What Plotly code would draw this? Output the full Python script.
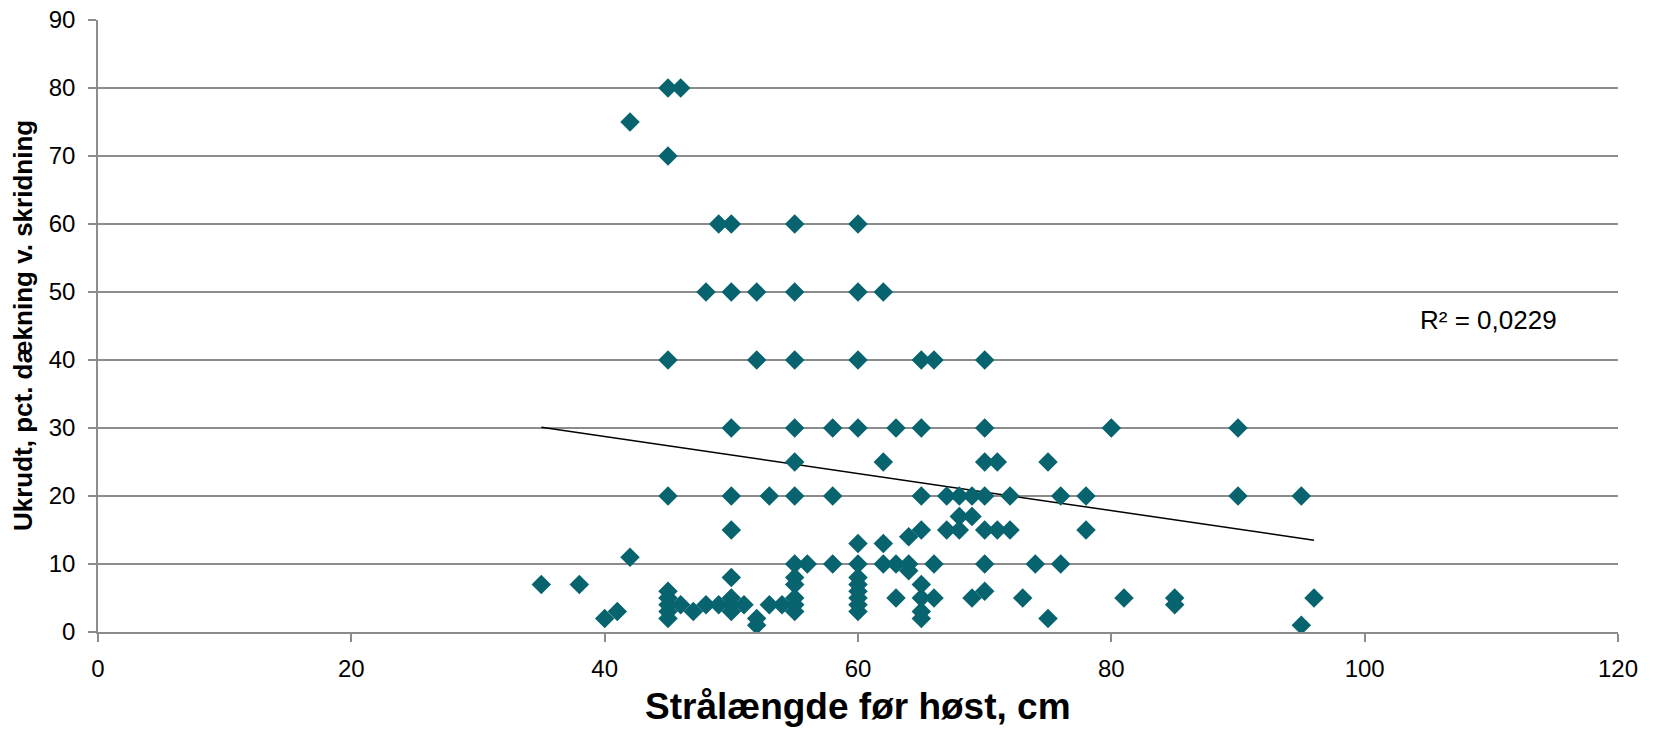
import plotly.graph_objects as go

# Data
x_vals = [
    35, 38, 40, 41, 42, 42,
    45, 45, 45, 45, 45, 45, 45, 45, 45,
    46, 46, 47, 48, 48, 49, 49,
    50, 50, 50, 50, 50, 50, 50, 50, 50,
    51, 52, 52, 52, 52, 53, 53, 54,
    55, 55, 55, 55, 55, 55, 55, 55, 55, 55, 55, 55,
    56, 58, 58, 58,
    60, 60, 60, 60, 60, 60, 60, 60, 60, 60, 60, 60,
    62, 62, 62, 62, 63, 63, 63, 64, 64, 64,
    65, 65, 65, 65, 65, 65, 65, 65,
    66, 66, 66, 67, 67, 68, 68, 68, 69, 69, 69,
    70, 70, 70, 70, 70, 70, 70, 71, 71, 72, 72,
    73, 74, 75, 75, 76, 76, 78, 78, 80, 81, 85, 85, 90, 90, 95, 95, 96,
]
y_vals = [
    7, 7, 2, 3, 11, 75,
    2, 3, 4, 5, 6, 20, 40, 70, 80,
    4, 80, 3, 4, 50, 4, 60,
    3, 4, 5, 8, 15, 20, 30, 50, 60,
    4, 1, 2, 40, 50, 4, 20, 4,
    3, 4, 5, 7, 8, 10, 20, 25, 30, 40, 50, 60,
    10, 10, 20, 30,
    3, 4, 5, 6, 7, 8, 10, 13, 30, 40, 50, 60,
    10, 13, 25, 50, 5, 10, 30, 9, 10, 14,
    2, 3, 5, 7, 15, 20, 30, 40,
    5, 10, 40, 15, 20, 15, 17, 20, 5, 17, 20,
    6, 10, 15, 20, 25, 30, 40, 15, 25, 15, 20,
    5, 10, 2, 25, 10, 20, 15, 20, 30, 5, 4, 5, 20, 30, 1, 20, 5,
]

# Linear trend line as drawn in the reference (endpoints)
trend_x = [35, 96]
trend_y = [30.1, 13.5]
r2_text = "R² = 0,0229"

x_ticks = [0, 20, 40, 60, 80, 100, 120]
y_ticks = [0, 10, 20, 30, 40, 50, 60, 70, 80, 90]

x_title = "Strålængde før høst, cm"
y_title = "Ukrudt, pct. dækning v. skridning"

FONT = "Liberation Sans, Arial, sans-serif"
TEAL = "#07646F"
GRID = "#8C8C8C"

fig = go.Figure()
fig.add_trace(go.Scatter(
    x=trend_x, y=trend_y, mode="lines",
    line=dict(color="black", width=1.5),
    hoverinfo="skip", showlegend=False,
))
fig.add_trace(go.Scatter(
    x=x_vals, y=y_vals, mode="markers",
    marker=dict(symbol="diamond", size=15, color=TEAL, line=dict(width=0)),
    showlegend=False,
))

fig.add_annotation(
    x=109.8, y=45.9, xref="x", yref="y", text=r2_text, showarrow=False,
    font=dict(family=FONT, size=26, color="black"),
)
fig.add_annotation(
    x=0.5, y=-0.121, xref="paper", yref="paper", text="<b>" + x_title + "</b>",
    showarrow=False, xanchor="center", yanchor="middle",
    font=dict(family=FONT, size=37, color="black"),
)
fig.add_annotation(
    x=-0.0493, y=0.5, xref="paper", yref="paper", text="<b>" + y_title + "</b>",
    showarrow=False, xanchor="center", yanchor="middle", textangle=-90,
    font=dict(family=FONT, size=26, color="black"),
)

fig.update_layout(
    width=1657, height=729,
    margin=dict(l=98, r=39, t=20, b=97, autoexpand=False),
    paper_bgcolor="white", plot_bgcolor="white",
    font=dict(family=FONT, color="black"),
)
fig.update_xaxes(
    range=[0, 120], tickvals=x_ticks, showgrid=False, zeroline=False,
    automargin=False,
    showline=True, linecolor=GRID, linewidth=1.5,
    ticks="outside", ticklen=8, tickcolor=GRID, tickwidth=1.5,
    ticklabelstandoff=6,
    tickfont=dict(family=FONT, size=24, color="black"),
)
fig.update_yaxes(
    range=[0, 90], tickvals=y_ticks, showgrid=True, gridcolor=GRID, gridwidth=1.5,
    zeroline=False, automargin=False,
    showline=True, linecolor=GRID, linewidth=1.5,
    ticks="outside", ticklen=8, tickcolor=GRID, tickwidth=1.5,
    ticklabelstandoff=8,
    tickfont=dict(family=FONT, size=24, color="black"),
)

fig.write_html("out.html")
